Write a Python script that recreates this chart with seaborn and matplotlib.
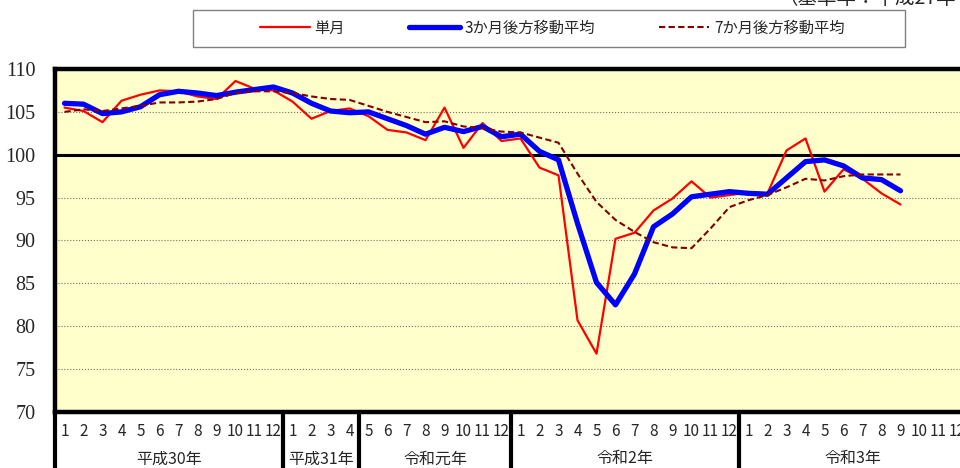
import numpy as np
import pandas as pd
import seaborn as sns
import matplotlib.pyplot as plt
import matplotlib.transforms as mtransforms
from matplotlib.patches import Rectangle

nan = np.nan

# months on the x axis
months = (list(range(1, 13)) + list(range(1, 5)) + list(range(5, 13))
          + list(range(1, 13)) + list(range(1, 13)))
groups = ['平成30年', '平成31年', '令和元年', '令和2年', '令和3年']
group_sizes = [12, 4, 8, 12, 12]

# series values
single = [105.5, 105.1, 103.8, 106.3, 107.0, 107.5, 107.4, 106.8, 106.5, 108.6, 107.7, 107.5,
          106.2, 104.2, 105.1, 105.4,
          104.5, 102.9, 102.6, 101.7, 105.5, 100.8, 103.7, 101.6,
          101.9, 98.5, 97.6, 80.7, 76.8, 90.2, 90.9, 93.5, 94.9, 96.9, 95.0, 95.3,
          95.6, 95.5, 100.5, 101.9, 95.7, 98.3, 97.2, 95.5, 94.2, nan, nan, nan]
ma3 = [106.0, 105.9, 104.8, 105.0, 105.6, 107.0, 107.4, 107.2, 106.9, 107.3, 107.6, 107.9,
       107.2, 106.0, 105.1, 104.9,
       105.0, 104.2, 103.4, 102.4, 103.2, 102.7, 103.3, 102.1,
       102.4, 100.4, 99.4, 92.0, 85.1, 82.5, 86.1, 91.6, 93.1, 95.1, 95.4, 95.7,
       95.5, 95.4, 97.3, 99.2, 99.4, 98.7, 97.3, 97.1, 95.8, nan, nan, nan]
ma7 = [105.0, 105.3, 105.1, 105.4, 105.7, 106.1, 106.1, 106.2, 106.5, 107.2, 107.4, 107.4,
       107.2, 106.8, 106.5, 106.4,
       105.7, 105.0, 104.4, 103.8, 103.9, 103.3, 103.1, 102.7,
       102.6, 102.0, 101.4, 97.8, 94.5, 92.4, 91.0, 89.8, 89.2, 89.1, 91.4, 93.9,
       94.7, 95.3, 96.2, 97.2, 97.0, 97.5, 97.7, 97.7, 97.7, nan, nan, nan]

df = pd.DataFrame({'idx': np.arange(len(months)), 'single': single, 'ma3': ma3, 'ma7': ma7})

sns.set_style('white')
plt.rcParams['font.family'] = ['Noto Sans CJK JP', 'DejaVu Sans']

W, H = 960, 468
fig = plt.figure(figsize=(W / 100, H / 100), dpi=100)
ax = fig.add_axes([55 / W, (H - 412) / H, (967 - 55) / W, (412 - 69) / H])
ax.set_facecolor('#FFFFCC')

sns.lineplot(data=df, x='idx', y='single', color='#FF0000', lw=1.6, ax=ax, label='単月')
sns.lineplot(data=df, x='idx', y='ma3', color='#0000FF', lw=3.8, ax=ax, label='3か月後方移動平均')
sns.lineplot(data=df, x='idx', y='ma7', color='#800000', lw=1.5, ax=ax,
             linestyle=(0, (3, 1.6)), label='7か月後方移動平均')
handles, labels = ax.get_legend_handles_labels()
ax.get_legend().remove()

ax.set_xlim(-0.5, len(months) - 0.5)
ax.set_ylim(70, 110)
ax.set_yticks(range(70, 111, 5))
ax.set_yticklabels([str(v) for v in range(70, 111, 5)], family='Liberation Serif', fontsize=14.5)
ax.set_xticks(np.arange(len(months)))
ax.set_xticklabels([str(m) for m in months], fontsize=11)
ax.tick_params(axis='y', length=0, pad=14)
ax.tick_params(axis='x', length=0, pad=8)
ax.set_xlabel('')
ax.set_ylabel('')

ax.yaxis.grid(True, linestyle=':', color='#707070', lw=0.8)
ax.set_axisbelow(True)
ax.axhline(100, color='black', lw=2.2, zorder=1.5)

for side in ['top', 'left', 'bottom']:
    ax.spines[side].set_linewidth(3.2)
    ax.spines[side].set_color('black')
ax.spines['right'].set_visible(False)

# group separators and labels below the axis
trans = mtransforms.blended_transform_factory(ax.transData, ax.transAxes)
start = -0.5
ax.plot([start, start], [0, -0.2], transform=trans, clip_on=False, color='black', lw=3)
for name, size in zip(groups, group_sizes):
    end = start + size
    ax.plot([end, end], [0, -0.2], transform=trans, clip_on=False, color='black', lw=3)
    ax.text((start + end) / 2, -0.137, name, transform=trans, ha='center', va='center',
            fontsize=11.5)
    start = end

# legend box
fig.patches.append(Rectangle((193 / W, (H - 47) / H), 712 / W, 37 / H, transform=fig.transFigure,
                             facecolor='white', edgecolor='#808080', lw=1, zorder=0))
fig.legend(handles, labels, loc='center', bbox_to_anchor=(552 / W, (H - 28) / H), ncol=3,
           frameon=False, handlelength=3.3, columnspacing=4.2, handletextpad=0.3, fontsize=11)

fig.text(778 / W, (H - 9) / H, '（基準年：平成27年＝100）', ha='left', va='bottom', fontsize=14)

fig.savefig('out.png', dpi=100)
